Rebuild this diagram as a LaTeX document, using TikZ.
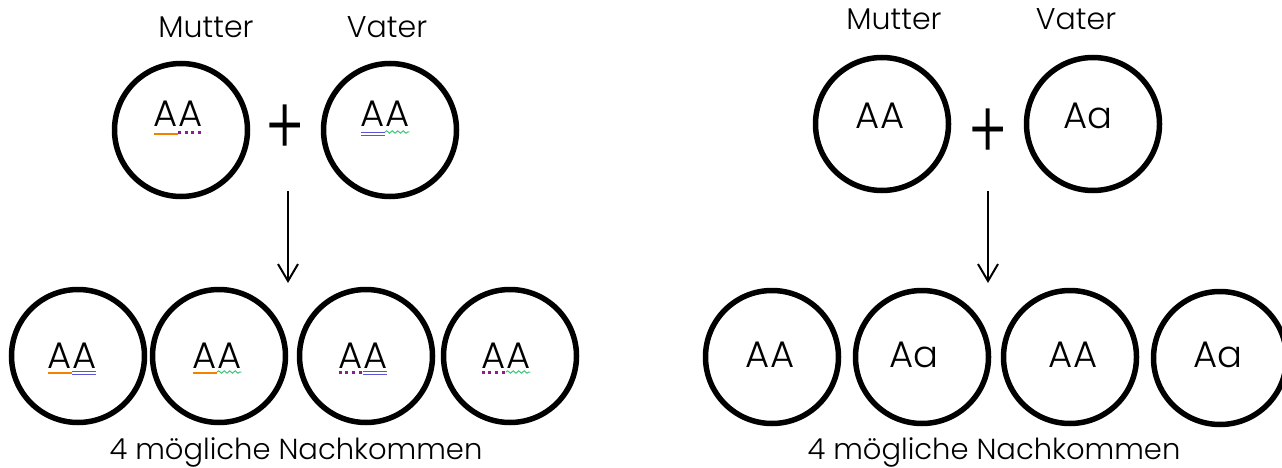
\documentclass[tikz,border=0pt]{standalone}
\usepackage{fontspec}
\setmainfont{Poppins}[UprightFont={* Light}]
\usetikzlibrary{arrows.meta,decorations.pathmorphing}
\definecolor{ulorange}{HTML}{F08200}
\definecolor{ulpurple}{HTML}{8E1C8C}
\definecolor{ulblue}{HTML}{5A55D2}
\definecolor{ulgreen}{HTML}{3CC878}
\begin{document}
\begin{tikzpicture}[x=1pt,y=-1pt,
 cell/.style={circle,draw,line width=5.5pt,minimum size=133pt,inner sep=0pt},
 geno/.style={font=\fontsize{37}{40}\selectfont,inner sep=0pt,anchor=base},
 lbl/.style={font=\fontsize{30}{34}\selectfont,inner sep=0pt,anchor=base},
 capt/.style={font=\fontsize{29}{32}\selectfont,inner sep=0pt,anchor=base},
 plus/.style={font=\fontsize{60}{64}\selectfont,inner sep=0pt},
 ulo/.style={ulorange,line width=2pt},
 ulp/.style={ulpurple,line width=3pt,dash pattern=on 3pt off 3.7pt},
 ulb/.style={ulblue,double=white,double distance=2.2pt,line width=1.3pt},
 ulg/.style={ulgreen,line width=1pt,decorate,decoration={snake,amplitude=1.2pt,segment length=5.5pt}},
 arr/.style={line width=2pt,-{Straight Barb[length=17pt,width=20pt]}}
]
\useasboundingbox (0,0) rectangle (1282,468);
% ---------- left ----------
\node[lbl] (lm) at (206,38) {Mutter};
\node[lbl] (lv) at (387,38) {Vater};
\node[cell] (LM) at (181,130) {};
\node[cell] (LV) at (390,130) {};
\node[plus] (lp) at (285,130) {\scalebox{1}[1.35]{+}};
\node[geno] (gLM) at (178,127) {AA};
\node[geno] (gLV) at (385,127) {AA};
\draw[ulo] ([yshift=-7pt]gLM.base west) -- ([yshift=-7pt]gLM.base);
\draw[ulp] ([yshift=-5.5pt]gLM.base) -- ([yshift=-5.5pt]gLM.base east);
\draw[ulb] ([yshift=-7pt]gLV.base west) -- ([yshift=-7pt]gLV.base);
\draw[ulg] ([yshift=-5pt]gLV.base) -- ([yshift=-5pt]gLV.base east);
\coordinate (la1) at (288,191);
\coordinate (la2) at (288,283);
\draw[arr] (la1) -- (la2);
\node[cell] (L1) at (78,356) {};
\node[cell] (L2) at (219,356) {};
\node[cell] (L3) at (366,356) {};
\node[cell] (L4) at (510,356) {};
\node[geno] (g1) at (72,368) {AA};
\node[geno] (g2) at (217,368) {AA};
\node[geno] (g3) at (363,368) {AA};
\node[geno] (g4) at (506,368) {AA};
\draw[ulo] ([yshift=-5pt]g1.base west) -- ([yshift=-5pt]g1.base);
\draw[ulb] ([yshift=-5pt]g1.base) -- ([yshift=-5pt]g1.base east);
\draw[ulo] ([yshift=-5pt]g2.base west) -- ([yshift=-5pt]g2.base);
\draw[ulg] ([yshift=-4pt]g2.base) -- ([yshift=-4pt]g2.base east);
\draw[ulp] ([yshift=-4pt]g3.base west) -- ([yshift=-4pt]g3.base);
\draw[ulb] ([yshift=-5pt]g3.base) -- ([yshift=-5pt]g3.base east);
\draw[ulp] ([yshift=-4pt]g4.base west) -- ([yshift=-4pt]g4.base);
\draw[ulg] ([yshift=-4pt]g4.base) -- ([yshift=-4pt]g4.base east);
\node[capt] (lc) at (296,459) {4 mögliche Nachkommen};
% ---------- right ----------
\node[lbl] (rm) at (894,30) {Mutter};
\node[lbl] (rv) at (1076,30) {Vater};
\node[cell] (RM) at (882,124) {};
\node[cell] (RV) at (1093,124) {};
\node[plus] (rp) at (988,134) {\scalebox{1}[1.35]{+}};
\node[geno] (gRM) at (880,129) {AA};
\node[geno] (gRV) at (1088,129) {Aa};
\coordinate (ra1) at (988,191);
\coordinate (ra2) at (988,283);
\draw[arr] (ra1) -- (ra2);
\node[cell] (R1) at (772,357) {};
\node[cell] (R2) at (922,357) {};
\node[cell] (R3) at (1070,357) {};
\node[cell] (R4) at (1220,358) {};
\node[geno] (h1) at (770,367) {AA};
\node[geno] (h2) at (914,367) {Aa};
\node[geno] (h3) at (1073,367) {AA};
\node[geno] (h4) at (1218,367) {Aa};
\node[capt] (rc) at (994,459) {4 mögliche Nachkommen};
\end{tikzpicture}
\end{document}
